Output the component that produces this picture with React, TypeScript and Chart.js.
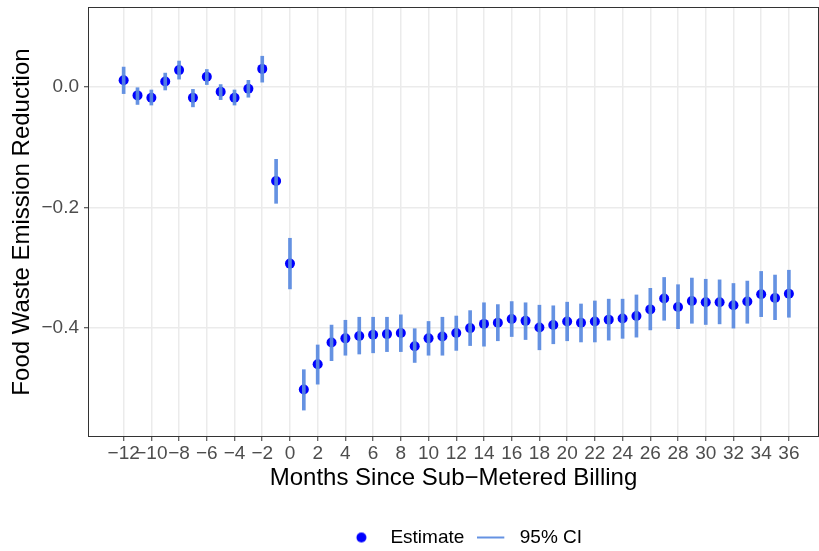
import React, { useEffect, useRef } from "react";
import { Chart, registerables } from "chart.js";

Chart.register(...registerables);

const FONT = "'Liberation Sans', Arial, Helvetica, sans-serif";

const months = [
  -12, -11, -10, -9, -8, -7, -6, -5, -4, -3, -2, -1, 0, 1, 2, 3, 4, 5, 6, 7, 8, 9, 10, 11, 12,
  13, 14, 15, 16, 17, 18, 19, 20, 21, 22, 23, 24, 25, 26, 27, 28, 29, 30, 31, 32, 33, 34, 35, 36,
];

const estimates = [
  0.011, -0.014, -0.018, 0.009, 0.028, -0.018, 0.017, -0.008, -0.018, -0.003, 0.03, -0.156, -0.293,
  -0.502, -0.46, -0.424, -0.417, -0.413, -0.411, -0.41, -0.408, -0.43, -0.417, -0.414, -0.408,
  -0.4, -0.393, -0.391, -0.385, -0.388, -0.399, -0.395, -0.389, -0.391, -0.389, -0.386, -0.384,
  -0.38, -0.369, -0.351, -0.365, -0.355, -0.357, -0.357, -0.362, -0.356, -0.344, -0.35, -0.343,
];

const ciLower = [
  -0.011, -0.029, -0.03, -0.005, 0.013, -0.033, 0.004, -0.021, -0.03, -0.017, 0.008, -0.193, -0.335,
  -0.536, -0.493, -0.454, -0.445, -0.443, -0.441, -0.439, -0.439, -0.457, -0.445, -0.445, -0.437,
  -0.429, -0.43, -0.421, -0.414, -0.419, -0.436, -0.426, -0.421, -0.423, -0.423, -0.42, -0.417,
  -0.415, -0.403, -0.387, -0.401, -0.392, -0.394, -0.393, -0.4, -0.392, -0.381, -0.386, -0.382,
];

const ciUpper = [
  0.033, 0.0, -0.005, 0.023, 0.043, -0.004, 0.029, 0.004, -0.005, 0.011, 0.051, -0.12, -0.251,
  -0.469, -0.428, -0.395, -0.387, -0.382, -0.382, -0.382, -0.378, -0.401, -0.389, -0.382, -0.38,
  -0.371, -0.358, -0.361, -0.356, -0.358, -0.362, -0.363, -0.357, -0.36, -0.355, -0.352, -0.352,
  -0.345, -0.334, -0.316, -0.328, -0.317, -0.319, -0.32, -0.326, -0.322, -0.306, -0.312, -0.304,
];

const xTickValues = [
  -12, -10, -8, -6, -4, -2, 0, 2, 4, 6, 8, 10, 12, 14, 16, 18, 20, 22, 24, 26, 28, 30, 32, 34, 36,
];
const yTickValues = [-0.4, -0.2, 0.0];

const POINT_COLOR = "#0000FF";
const CI_COLOR = "rgba(88,137,224,0.92)";

const minusFmt = (s: string) => s.replace("-", "\u2212");

function makeDotKey(): HTMLCanvasElement {
  const c = document.createElement("canvas");
  c.width = 33;
  c.height = 12;
  const ctx = c.getContext("2d")!;
  ctx.fillStyle = POINT_COLOR;
  ctx.beginPath();
  ctx.arc(13.5, 6, 5, 0, Math.PI * 2);
  ctx.fill();
  return c;
}

function makeLineKey(): HTMLCanvasElement {
  const c = document.createElement("canvas");
  c.width = 33;
  c.height = 4;
  const ctx = c.getContext("2d")!;
  ctx.fillStyle = CI_COLOR;
  ctx.fillRect(0, 1, 27, 2);
  return c;
}

const panelBorder = {
  id: "panelBorder",
  afterDatasetsDraw(chart: any) {
    const { ctx, chartArea: a } = chart;
    ctx.save();
    ctx.strokeStyle = "#333333";
    ctx.lineWidth = 1;
    ctx.strokeRect(a.left - 0.5, a.top - 0.5, a.right - a.left + 1, a.bottom - a.top + 1);
    ctx.restore();
  },
};

const legendShift = {
  id: "legendShift",
  afterLayout(chart: any) {
    const lg = chart.legend;
    if (!lg) return;
    const d = 465 - (lg.left + lg.right) / 2;
    lg.left += d;
    lg.right += d;
    lg.top += 6;
    lg.bottom += 6;
  },
};

export default function App() {
  const ref = useRef<HTMLCanvasElement | null>(null);

  useEffect(() => {
    if (!ref.current) return;
    const dotKey = makeDotKey();
    const lineKey = makeLineKey();

    const estData = months.map((m, i) => ({ x: m, y: estimates[i] }));
    const ciData = months.map((m, i) => ({ x: m, y: [ciLower[i], ciUpper[i]] }));

    const chart = new Chart(ref.current, {
      type: "scatter",
      data: {
        datasets: [
          {
            type: "bar",
            label: "95% CI",
            data: ciData as any,
            backgroundColor: CI_COLOR,
            borderWidth: 0,
            barThickness: 3,
            grouped: false,
            order: 0,
          } as any,
          {
            type: "scatter",
            label: "Estimate",
            data: estData,
            pointRadius: 5,
            pointHoverRadius: 5,
            pointBackgroundColor: POINT_COLOR,
            pointBorderWidth: 0,
            order: 1,
          } as any,
        ],
      },
      options: {
        animation: false,
        responsive: true,
        maintainAspectRatio: false,
        layout: { padding: { left: 0, top: 8, right: 1, bottom: 0 } },
        plugins: {
          tooltip: { enabled: false },
          legend: {
            position: "bottom",
            labels: {
              usePointStyle: true,
              pointStyleWidth: 33,
              boxHeight: 12,
              padding: 13,
              color: "#000000",
              font: { family: FONT, size: 19 },
              generateLabels: () => [
                {
                  text: "Estimate",
                  pointStyle: dotKey as any,
                  fillStyle: POINT_COLOR,
                  strokeStyle: POINT_COLOR,
                  lineWidth: 0,
                  hidden: false,
                  datasetIndex: 1,
                  fontColor: "#000000",
                },
                {
                  text: "95% CI",
                  pointStyle: lineKey as any,
                  fillStyle: CI_COLOR,
                  strokeStyle: CI_COLOR,
                  lineWidth: 0,
                  hidden: false,
                  datasetIndex: 0,
                  fontColor: "#000000",
                },
              ],
            },
          },
        },
        scales: {
          x: {
            type: "linear",
            min: -14.5,
            max: 38.1,
            offset: false,
            grid: {
              offset: false,
              color: "#EBEBEB",
              lineWidth: 1.5,
              tickColor: "#333333",
              tickLength: 5,
              tickWidth: 1,
            },
            border: { display: false },
            afterBuildTicks: (s: any) => {
              s.ticks = xTickValues.map((v) => ({ value: v }));
            },
            afterFit: (s: any) => {
              const lh = s.chart.legend ? s.chart.legend.height : 0;
              s.height = s.chart.height - lh - 436;
              s.paddingLeft = 0;
              s.paddingRight = 0;
            },
            ticks: {
              autoSkip: false,
              maxRotation: 0,
              minRotation: 0,
              padding: 1,
              color: "#4D4D4D",
              font: { family: FONT, size: 19 },
              callback: (v: any) => minusFmt(String(v)),
            },
            title: {
              display: true,
              text: "Months Since Sub\u2212Metered Billing",
              color: "#000000",
              font: { family: FONT, size: 24 },
              padding: { top: 0, bottom: 16 },
            },
          },
          y: {
            type: "linear",
            min: -0.579,
            max: 0.131,
            grid: {
              color: "#EBEBEB",
              lineWidth: 1.5,
              tickColor: "#333333",
              tickLength: 5,
              tickWidth: 1,
            },
            border: { display: false },
            afterBuildTicks: (s: any) => {
              s.ticks = yTickValues.map((v) => ({ value: v }));
            },
            afterFit: (s: any) => {
              s.width = 89;
              s.paddingTop = 0;
              s.paddingBottom = 0;
            },
            ticks: {
              padding: 5,
              color: "#4D4D4D",
              font: { family: FONT, size: 19 },
              callback: (v: any) => minusFmt(Number(v).toFixed(1)),
            },
            title: {
              display: true,
              text: "Food Waste Emission Reduction",
              color: "#000000",
              font: { family: FONT, size: 24 },
              padding: { top: 8, bottom: 0 },
            },
          },
        },
      },
      plugins: [panelBorder, legendShift],
    } as any);

    return () => chart.destroy();
  }, []);

  return (
    <div style={{ position: "fixed", left: 0, top: 0, width: 823, height: 551, background: "#fff" }}>
      <canvas ref={ref} />
    </div>
  );
}
